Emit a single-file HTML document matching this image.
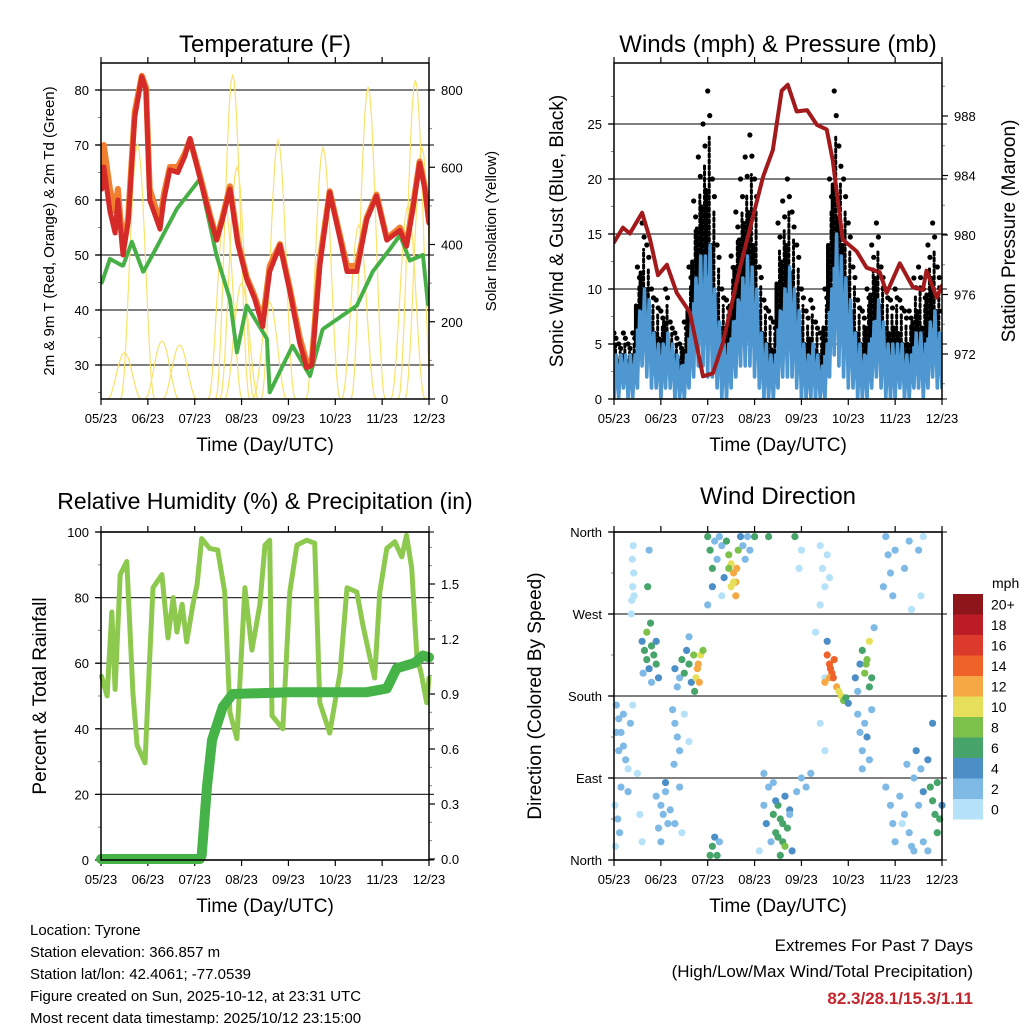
<!DOCTYPE html>
<html><head><meta charset="utf-8"><style>
html,body{margin:0;padding:0;background:#fff;}
svg{display:block;font-family:"Liberation Sans",Arial,sans-serif;}
</style></head><body>
<svg id="c" width="1024" height="1024" viewBox="0 0 1024 1024"></svg>
<script>
// ---------- DATA ----------
const monthLabels = ["05/23","06/23","07/23","08/23","09/23","10/23","11/23","12/23"];
// Temperature panel
const tempX = [0.02,0.06,0.19,0.3,0.36,0.47,0.58,0.72,0.87,0.96,1.04,1.26,1.34,1.47,1.64,1.79,1.9,2.11,2.32,2.47,2.58,2.75,2.92,3.11,3.28,3.45,3.6,3.82,4.03,4.24,4.39,4.5,4.67,4.88,5.1,5.25,5.46,5.67,5.88,6.1,6.38,6.52,6.65,6.8,6.91,7.0];
const temp2m = [62,66,58,54,60,50,56,75,82.4,80,60,54.7,60,65.5,65,68,71.2,64,57,52.7,56,62,52,45.6,42,37,47,51.8,43.4,34,29.5,30,48,61.4,53,47,47,56.4,60.7,52.7,54.5,51.6,58,66.7,62,55.8];
const temp9m = [64,70,62,58,62,51,57,76,82.6,80.5,62,56,61,66,66,68.5,71,64.5,57.5,53,56.5,62.5,52.5,46,42.5,38,48,52,44,35,30.5,31,49,61.6,53.5,48,48,56.8,61,53,55,52,58.5,67,62.5,56];
const dewX = [0.02,0.19,0.47,0.66,0.9,1.2,1.62,2.11,2.47,2.75,2.9,3.11,3.54,3.6,3.88,4.09,4.46,4.73,5.46,5.8,6.16,6.38,6.59,6.87,6.98];
const dew2m = [45,49.3,48,52.4,46.9,51.6,58.4,63.8,49.8,42,32.3,40.8,34.8,25,29.9,33.5,28,36.5,40.8,47,51,53.6,49,50,40.8];
const solarPeakX = [0.78,1.68,2.81,3.78,4.74,5.7,6.71,0.5,1.3,2.65,2.9,3.0,3.6,5.5,6.55,6.85];
const solarPeakV = [660,140,840,670,650,808,826,120,150,500,600,300,250,450,500,650];
// Wind panel
const windX = [0,0.1,0.2,0.3,0.4,0.5,0.6,0.7,0.8,0.9,1,1.1,1.2,1.3,1.4,1.5,1.6,1.7,1.8,1.9,2,2.1,2.2,2.3,2.4,2.5,2.6,2.7,2.8,2.9,3,3.1,3.2,3.3,3.4,3.5,3.6,3.7,3.8,3.9,4,4.1,4.2,4.3,4.4,4.5,4.6,4.7,4.8,4.9,5,5.1,5.2,5.3,5.4,5.5,5.6,5.7,5.8,5.9,6,6.1,6.2,6.3,6.4,6.5,6.6,6.7,6.8,6.9,7];
const gustHi = [6,5,6,5,6,12,16,14,10,9,8,10,7,6,5,7,12,18,22,25,28,20,14,10,9,13,17,20,22,24,20,12,9,8,7,16,18,20,17,14,10,8,9,7,6,10,20,28,23,20,16,12,9,8,10,14,16,12,10,9,10,9,8,8,11,12,10,14,16,12,8];
const gustLo = [2,2,2,2,2,5,7,6,4,3,3,4,3,2,2,2,4,7,9,10,10,8,5,3,3,4,7,9,10,10,8,4,3,2,2,5,7,8,6,5,3,2,2,2,2,3,8,11,10,8,6,4,3,2,3,5,6,5,3,3,3,3,2,2,3,4,3,5,6,4,3];
const windHi = [4,4,4,4,4,8,10,9,6,5,5,6,5,4,3,4,7,11,13,13,14,10,7,5,5,7,9,11,13,12,10,6,5,4,4,8,10,12,10,8,5,4,5,4,3,5,10,15,13,11,9,6,5,4,5,7,9,7,5,5,5,5,4,4,6,6,5,7,8,6,5];
const windLo = [0,0,1,0,0,1,3,2,1,1,0,1,1,0,0,0,1,2,3,3,2,2,1,0,0,1,2,3,3,3,2,1,0,0,0,1,2,2,2,1,0,0,0,0,0,0,2,4,3,2,1,1,0,0,0,1,2,1,0,0,0,1,0,0,1,1,0,1,2,1,1];
const presX = [0,0.19,0.34,0.6,0.77,0.94,1.13,1.34,1.62,1.9,2.11,2.32,2.69,3.18,3.39,3.58,3.71,3.9,4.12,4.33,4.54,4.67,4.88,5.18,5.39,5.67,5.82,6.1,6.38,6.59,6.67,6.89,7.0];
const presV = [979.5,980.5,980.1,981.5,979.7,977.3,978,976.1,974.8,970.5,970.7,972.7,977.8,983.9,985.7,989.7,990.1,988.3,988.4,987.4,987.1,985,979.7,978.9,977.8,977.5,976.1,978.1,976.5,976.3,977.6,975.8,976.6];
// RH panel
const rhX = [0.01,0.13,0.23,0.3,0.41,0.55,0.68,0.77,0.94,1.04,1.11,1.3,1.43,1.54,1.62,1.73,1.83,1.96,2.05,2.15,2.32,2.49,2.64,2.75,2.9,3.07,3.22,3.39,3.5,3.6,3.65,3.88,4.03,4.18,4.39,4.56,4.67,4.88,5.1,5.25,5.46,5.59,5.74,5.84,5.95,6.1,6.27,6.42,6.52,6.63,6.74,6.84,6.95,7.0];
const rhV = [56,50,75.6,52,87,91,51,35,29.6,61.6,83,87,67.7,80,69.5,78,66.5,77.7,84,98,95,94.5,81.7,45,37,83,64,77.7,96,97.5,44,40,81.7,96,97.5,96.6,48,38.7,57,83,81.7,71.6,61.6,55.5,81.7,95,97,92.4,99,89,62.5,56.4,48,55.5];
const rainX = [0,2.11,2.15,2.26,2.37,2.6,2.81,4.03,5.67,6.1,6.31,6.7,6.87,7.0];
const rainV = [0,0,0.02,0.39,0.65,0.83,0.9,0.91,0.91,0.93,1.04,1.07,1.11,1.1];
// Wind direction panel
const dirX = [0.38,0.40,0.42,0.39,0.41,0.37,0.43,0.75,0.72,
0.6,0.65,0.7,0.75,0.8,0.85,0.9,0.95,0.7,0.8,0.62,0.9,0.78,
0.05,0.1,0.15,0.2,0.25,0.3,0.05,0.1,0.2,0.35,0.4,0.5,0.02,0.15,0.55,0.6,0.3,0.08,0.12,0.03,
1.3,1.4,1.45,1.5,1.6,1.65,1.7,1.75,1.8,1.85,1.9,1.72,1.55,1.35,1.6,1.78,1.82,
1.25,1.3,1.35,1.4,1.28,1.5,1.6,
0.9,1.0,1.05,1.1,1.15,0.95,1.2,1.3,1.45,1.4,1.0,1.1,
2.0,2.05,2.1,2.15,2.2,2.25,2.3,2.35,2.4,2.45,2.5,2.55,2.6,2.5,2.6,2.65,2.7,2.75,2.8,2.85,2.9,3.0,2.0,2.3,3.3,2.45,2.55,2.62,2.1,
2.05,2.1,2.15,2.2,2.25,
3.2,3.25,3.3,3.35,3.4,3.45,3.5,3.55,3.6,3.65,3.7,3.75,3.8,3.55,3.4,3.9,4.0,4.1,4.2,3.1,3.2,3.5,3.6,3.45,3.65,3.75,
4.4,4.45,4.5,4.4,4.55,4.6,4.3,4.5,4.4,4.5,3.95,4.0,3.86,
4.55,4.6,4.65,4.7,4.6,4.75,4.8,4.85,4.9,4.95,5.0,4.55,4.5,4.62,4.68,
5.15,5.25,5.3,5.35,5.4,5.45,5.5,5.45,5.2,5.55,5.38,
5.2,5.25,5.3,5.35,5.4,5.45,5.5,5.3,
5.8,5.85,5.9,5.95,6.0,5.75,6.2,6.3,6.35,6.5,6.55,6.6,
5.8,5.9,5.95,6.0,6.1,6.2,6.3,6.4,6.5,6.55,6.6,6.7,6.75,6.8,6.85,6.9,6.95,7.0,6.7,6.4,6.9,6.25,6.45,6.8,6.15,6.35,6.6];
const dirV = [285,300,315,330,345,270,290,340,300,
240,230,220,210,235,225,215,200,250,195,205,240,260,
170,155,140,125,110,100,140,120,160,150,170,95,60,80,50,20,75,45,30,15,
210,200,220,205,215,195,225,200,215,225,230,185,230,190,245,210,195,
165,150,135,120,105,160,130,
70,60,50,75,40,35,55,40,30,80,20,85,
355,340,320,350,330,355,345,310,350,335,325,315,305,300,290,340,355,345,330,355,340,355,280,290,355,320,305,320,300,
5,15,25,5,20,
60,40,80,20,50,30,60,45,20,70,35,55,10,5,85,75,90,80,95,10,95,25,40,65,15,50,
345,320,300,280,335,310,250,200,150,120,320,340,355,
225,215,205,220,200,190,185,180,175,178,172,240,195,210,200,
200,215,230,205,220,240,200,190,185,255,215,
160,140,120,150,135,110,165,100,
355,335,315,290,340,300,320,350,275,340,290,355,
80,60,40,20,70,50,30,90,60,100,20,110,80,65,50,30,45,60,10,10,85,105,120,150,40,15,75];
const dirS = [1,1,1,1,1,1,1,3,7,
4,6,7,5,6,7,6,5,8,3,2,5,7,
2,2,2,2,2,1,3,2,2,2,1,1,1,2,1,1,2,2,2,1,
4,3,6,6,7,5,8,11,12,10,8,7,4,2,3,12,13,
2,2,2,2,2,1,1,
3,2,3,2,2,2,3,2,1,2,3,4,
6,7,6,3,2,2,2,4,6,8,10,12,12,11,12,8,4,3,3,3,2,6,3,1,6,9,11,13,4,
7,6,5,6,3,
3,4,2,3,6,7,6,7,6,5,6,4,4,6,2,2,2,2,2,1,2,7,6,5,8,3,
1,1,1,1,1,1,1,1,1,1,1,1,7,
14,14,15,14,13,12,11,10,9,6,4,5,12,15,14,
4,5,7,8,8,10,7,6,3,3,9,
3,2,2,3,4,2,3,2,
2,3,3,3,2,2,3,3,1,3,1,1,
2,2,2,2,3,2,2,2,3,3,2,4,6,6,6,6,6,4,3,2,6,2,4,4,1,2,5];
const speedColors = ["#b5e2f8","#7fbae6","#4b8fc6","#47a56c","#7cc14a","#e6df5a","#f5a843","#ef6229","#dc3a2b","#bb1c25","#8e1519"];
const speedLabels = ["0","2","4","6","8","10","12","14","16","18","20+"];

// ---------- DRAW ----------
const NS="http://www.w3.org/2000/svg", svg=document.getElementById('c');
function mk(tag,attrs,parent,name,inter){const e=document.createElementNS(NS,tag);for(const k in attrs)e.setAttribute(k,attrs[k]);


(parent||svg).appendChild(e);return e;}
function txt(x,y,s,size,opt,name){opt=opt||{};const a={x:x,y:y,'font-size':size,fill:opt.fill||'#000','text-anchor':opt.anchor||'middle'};
if(opt.rot)a.transform='rotate(-90 '+x+' '+y+')';if(opt.weight)a['font-weight']=opt.weight;const t=mk('text',a,opt.g,name);t.textContent=s;return t;}
function lin(d0,d1,r0,r1){return v=>r0+(v-d0)/(d1-d0)*(r1-r0);}

function frame(L,T,R,B,name){
  const g=mk('g',{},svg,name);
  const xs=lin(0,7,L,R);
  for(let i=0;i<8;i++){const x=xs(i);
    mk('line',{x1:x,y1:B,x2:x,y2:B+6,stroke:'#000','stroke-width':1.2},g,'x-tick');
    mk('line',{x1:x,y1:T,x2:x,y2:T-6,stroke:'#000','stroke-width':1.2},g,'x-tick-top');
    txt(x,B+24,monthLabels[i],13,{g:g},'x-tick-label');}
  txt((L+R)/2,B+52,'Time (Day/UTC)',19,{g:g},'x-axis-title');
  return {g:g,xs:xs};
}
function leftAxis(g,L,R,ys,ticks,labels,minor){
  ticks.forEach((v,i)=>{const y=ys(v);
    mk('line',{x1:L-5,y1:y,x2:R+5,y2:y,stroke:'#333','stroke-width':1.2},g,'grid-line');
    mk('line',{x1:L-6,y1:y,x2:L,y2:y,stroke:'#000','stroke-width':1.2},g,'y-tick');
    txt(L-12,y+5,labels[i],13,{g:g,anchor:'end'},'y-tick-label');});
  (minor||[]).forEach(v=>mk('line',{x1:L-3,y1:ys(v),x2:L,y2:ys(v),stroke:'#888','stroke-width':1},g,'y-minor-tick'));
}
function rightAxis(g,R,ys,ticks,labels,minor){
  ticks.forEach((v,i)=>{const y=ys(v);
    mk('line',{x1:R,y1:y,x2:R+6,y2:y,stroke:'#000','stroke-width':1.2},g,'y2-tick');
    txt(R+12,y+5,labels[i],13,{g:g,anchor:'start'},'y2-tick-label');});
  (minor||[]).forEach(v=>mk('line',{x1:R,y1:ys(v),x2:R+3,y2:ys(v),stroke:'#888','stroke-width':1},g,'y2-minor-tick'));
}
function box(g,L,T,R,B){mk('rect',{x:L,y:T,width:R-L,height:B-T,fill:'none',stroke:'#000','stroke-width':1.5},g,'plot-frame');}
function poly(g,xs,ys,X,V,attrs,name){const p=X.map((x,i)=>xs(x).toFixed(1)+','+ys(V[i]).toFixed(1)).join(' ');
  const a=Object.assign({points:p,fill:'none','stroke-linejoin':'round','stroke-linecap':'round'},attrs);return mk('polyline',a,g,name);}
function clip(id,L,T,R,B){const d=mk('clipPath',{id:id},svg,'clip');mk('rect',{x:L,y:T,width:R-L,height:B-T},d,'clip-rect');}

// Panel 1: Temperature
(function(){const L=101,T=63,R=429,B=399;const f=frame(L,T,R,B,'temperature-panel');const g=f.g,xs=f.xs;
 const ys=lin(30,80,365,90), ys2=lin(0,800,399,90);
 leftAxis(g,L,R,ys,[30,40,50,60,70,80],['30','40','50','60','70','80'],[25,35,45,55,65,75]);
 rightAxis(g,R,ys2,[0,200,400,600,800],['0','200','400','600','800'],[100,300,500,700]);
 clip('cp1',L,T,R,B);const pg=mk('g',{'clip-path':'url(#cp1)'},g,'temperature-series');
 solarPeakX.forEach((px,i)=>{const v=solarPeakV[i],w=0.36;let pts=[];
   for(let k=-10;k<=10;k++){const x=px+k*w/10;const val=v*Math.pow(Math.cos(k/10*Math.PI/2),2);pts.push(xs(x).toFixed(1)+','+ys2(val).toFixed(1));}
   mk('polyline',{points:pts.join(' '),fill:'none',stroke:'#f9e26a','stroke-width':1.2},pg,'solar-insolation-line');});
 poly(pg,xs,ys,dewX,dew2m,{stroke:'#46b046','stroke-width':4,'stroke-dasharray':'3 1.5'},'dewpoint-2m-line');
 poly(pg,xs,ys,tempX,temp9m,{stroke:'#f08030','stroke-width':6},'temperature-9m-line');
 poly(pg,xs,ys,tempX,temp2m,{stroke:'#d42a28','stroke-width':5},'temperature-2m-line');
 box(g,L,T,R,B);
 txt(265,52,'Temperature (F)',24,{g:g},'temperature-title');
 txt(54,231,'2m & 9m T (Red, Orange) & 2m Td (Green)',15,{g:g,rot:1},'temperature-y-axis-title');
 txt(496,231,'Solar Insolation (Yellow)',15,{g:g,rot:1},'solar-y-axis-title');
})();

// Panel 2: Winds & Pressure
(function(){const L=614,T=63,R=942,B=399;const f=frame(L,T,R,B,'winds-panel');const g=f.g,xs=f.xs;
 const ys=lin(0,25,399,124), ys2=lin(972,988,354,116);
 leftAxis(g,L,R,ys,[0,5,10,15,20,25],['0','5','10','15','20','25'],[2.5,7.5,12.5,17.5,22.5,27.5]);
 rightAxis(g,R,ys2,[972,976,980,984,988],['972','976','980','984','988'],[970,974,978,982,986,990]);
 clip('cp2',L,T,R,B);const pg=mk('g',{'clip-path':'url(#cp2)'},g,'wind-series');
 windX.forEach((x,i)=>{const cx=xs(x);
   mk('line',{x1:cx-1.5,y1:ys(gustLo[i]),x2:cx-1.5,y2:ys((gustLo[i]+gustHi[i])/2),stroke:'#000','stroke-width':4,'stroke-linecap':'round'},pg,'gust-column');
   mk('line',{x1:cx+1.5,y1:ys(gustLo[i]),x2:cx+1.5,y2:ys(gustHi[i]*0.85),stroke:'#000','stroke-width':3,'stroke-linecap':'round','stroke-dasharray':'3 3'},pg,'gust-column');
   mk('circle',{cx:cx,cy:ys(gustHi[i]),r:2.6},pg,'gust-point');
   mk('circle',{cx:cx+2,cy:ys(gustHi[i]*0.92),r:2.6},pg,'gust-point');});
 let zig=[];windX.forEach((x,i)=>{zig.push(xs(x).toFixed(1)+','+ys(windLo[i]).toFixed(1));zig.push(xs(x+0.05).toFixed(1)+','+ys(windHi[i]).toFixed(1));});
 mk('polyline',{points:zig.join(' '),fill:'none',stroke:'#4e97d1','stroke-width':3.5,'stroke-linejoin':'round'},pg,'sonic-wind-line');
 windX.forEach((x,i)=>mk('line',{x1:xs(x),y1:ys(windLo[i]),x2:xs(x),y2:ys(windHi[i]*0.8),stroke:'#4e97d1','stroke-width':3.5},pg,'wind-column'));
 poly(pg,xs,ys2,presX,presV,{stroke:'#a31a1c','stroke-width':4},'pressure-line');
 box(g,L,T,R,B);
 txt(778,52,'Winds (mph) & Pressure (mb)',24,{g:g},'winds-title');
 txt(563,231,'Sonic Wind & Gust (Blue, Black)',19,{g:g,rot:1},'wind-y-axis-title');
 txt(1015,231,'Station Pressure (Maroon)',19,{g:g,rot:1},'pressure-y-axis-title');
})();

// Panel 3: RH & Precip
(function(){const L=101,T=532,R=429,B=860;const f=frame(L,T,R,B,'humidity-panel');const g=f.g,xs=f.xs;
 const ys=lin(0,100,860,532), ys2=lin(0,0.3,859,804);
 leftAxis(g,L,R,ys,[0,20,40,60,80,100],['0','20','40','60','80','100'],[10,30,50,70,90]);
 rightAxis(g,R,ys2,[0,0.3,0.6,0.9,1.2,1.5],['0.0','0.3','0.6','0.9','1.2','1.5'],[0.1,0.2,0.4,0.5,0.7,0.8,1.0,1.1,1.3,1.4,1.6,1.7]);
 const pg=mk('g',{},g,'humidity-series');
 poly(pg,xs,ys,rhX,rhV,{stroke:'#8dc94e','stroke-width':5},'relative-humidity-line');
 poly(pg,xs,ys2,rainX,rainV,{stroke:'#45b347','stroke-width':10},'precipitation-line');
 box(g,L,T,R,B);
 txt(265,509,'Relative Humidity (%) & Precipitation (in)',23,{g:g},'humidity-title');
 txt(46,696,'Percent & Total Rainfall',19,{g:g,rot:1},'humidity-y-axis-title');
})();

// Panel 4: Wind direction
(function(){const L=614,T=532,R=942,B=860;const f=frame(L,T,R,B,'wind-direction-panel');const g=f.g,xs=f.xs;
 const ys=lin(0,360,860,532);
 leftAxis(g,L,R,ys,[0,90,180,270,360],['North','East','South','West','North'],[45,135,225,315]);
 const pg=mk('g',{},g,'direction-points');
 dirX.forEach((x,i)=>{const ci=Math.min(10,Math.floor(dirS[i]/2));
   mk('circle',{cx:xs(x).toFixed(1),cy:ys(dirV[i]).toFixed(1),r:3.6,fill:speedColors[ci]},pg,'direction-point');});
 box(g,L,T,R,B);
 txt(778,504,'Wind Direction',24,{g:g},'wind-direction-title');
 txt(541,696,'Direction (Colored By Speed)',19,{g:g,rot:1},'direction-y-axis-title');
 const cb=mk('g',{},svg,'speed-colorbar');
 const top=594,h=20.5;
 for(let k=0;k<11;k++){const idx=10-k;const y=top+k*h;
   mk('rect',{x:953,y:y,width:30,height:h,fill:speedColors[idx]},cb,'colorbar-swatch');
   txt(991,y+h/2+5,speedLabels[idx],14,{g:cb,anchor:'start'},'colorbar-label');}
 txt(992,588,'mph',14,{g:cb,anchor:'start'},'colorbar-unit');
})();

// Footer text
const info=["Location: Tyrone","Station elevation: 366.857 m","Station lat/lon: 42.4061; -77.0539","Figure created on Sun, 2025-10-12, at 23:31 UTC","Most recent data timestamp: 2025/10/12 23:15:00"];
info.forEach((s,i)=>txt(30,935+i*22,s,15,{anchor:'start'},'station-info-line'));
txt(973,951,'Extremes For Past 7 Days',17,{anchor:'end'},'extremes-title');
txt(973,977,'(High/Low/Max Wind/Total Precipitation)',17,{anchor:'end'},'extremes-subtitle');
txt(973,1004,'82.3/28.1/15.3/1.11',17,{anchor:'end',fill:'#c4262c',weight:'bold'},'extremes-values');
</script>
</body></html>
